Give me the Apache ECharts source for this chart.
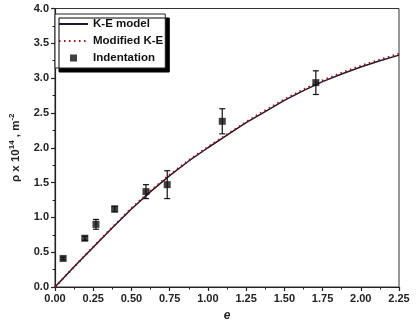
<!DOCTYPE html>
<html><head><meta charset="utf-8">
<script src="https://cdn.jsdelivr.net/npm/echarts@6/dist/echarts.min.js"></script>
<style>html,body{margin:0;padding:0;background:#fff}#c{width:419px;height:327px}</style>
</head><body><div id="c"></div>
<script>
// Model curves
const curveE   = [0, 0.125, 0.25, 0.375, 0.5, 0.625, 0.75, 0.875, 1.0, 1.125, 1.25, 1.375, 1.5, 1.625, 1.75, 1.875, 2.0, 2.125, 2.25];
const keModel  = [0, 0.29, 0.57, 0.85, 1.12, 1.37, 1.60, 1.81, 2.00, 2.18, 2.36, 2.52, 2.68, 2.82, 2.95, 3.06, 3.16, 3.25, 3.33];
const modKE    = [0, 0.29, 0.575, 0.855, 1.13, 1.38, 1.61, 1.82, 2.01, 2.19, 2.37, 2.535, 2.695, 2.835, 2.965, 3.075, 3.175, 3.265, 3.35];
// Indentation data
const indE   = [0.053, 0.195, 0.268, 0.39, 0.595, 0.734, 1.094, 1.706];
const indRho = [0.41, 0.70, 0.90, 1.12, 1.37, 1.47, 2.38, 2.935];
const indErr = [0.02, 0.03, 0.07, 0.04, 0.10, 0.20, 0.18, 0.17];
const xTicks = [0, 0.25, 0.5, 0.75, 1.0, 1.25, 1.5, 1.75, 2.0, 2.25];
const yTicks = [0, 0.5, 1.0, 1.5, 2.0, 2.5, 3.0, 3.5, 4.0];

const FONT = 'Liberation Sans';
const chart = echarts.init(document.getElementById('c'));
const axisCommon = {
  axisLine:{show:true, onZero:false, lineStyle:{color:'#222', width:1.2}},
  axisTick:{show:true, inside:false, length:4, lineStyle:{color:'#222', width:1.2}},
  minorTick:{show:true, splitNumber:2, length:2.5, lineStyle:{color:'#222', width:1}},
  splitLine:{show:false},
  axisLabel:{color:'#222', fontFamily:FONT, fontWeight:'bold', fontSize:11}
};
const SQ = 'path://M0 0M2.5 2.5H9.5V9.5H2.5ZM12 12';
chart.setOption({
  animation:false,
  backgroundColor:'#fff',
  grid:{left:49, right:20, top:8.5, bottom:35.3, show:true, borderColor:'#333', borderWidth:1},
  legend:{
    orient:'vertical', left:55, top:14,
    backgroundColor:'#fff', borderColor:'#222', borderWidth:1,
    shadowColor:'#000', shadowOffsetX:4, shadowOffsetY:4, shadowBlur:0,
    padding:[4,2,4,3], itemGap:5, itemWidth:29, itemHeight:12,
    textStyle:{fontFamily:FONT, fontWeight:'bold', fontSize:11.5, color:'#111'},
    data:[
      {name:'K-E model', itemStyle:{opacity:0}},
      {name:'Modified K-E', itemStyle:{opacity:0}},
      {name:'Indentation', icon:SQ, itemStyle:{color:'#111'}}
    ]
  },
  xAxis:Object.assign({}, axisCommon, {
    type:'value', min:0, max:2.25, interval:0.25,
    name:'e', nameLocation:'middle', nameGap:23,
    nameTextStyle:{fontFamily:FONT, fontWeight:'bold', fontStyle:'italic', fontSize:12, color:'#222'},
    axisLabel:Object.assign({}, axisCommon.axisLabel, {margin:6,
      formatter:v=>{const t=xTicks.find(x=>Math.abs(x-v)<1e-9);return t===undefined?'':t.toFixed(2);}})
  }),
  yAxis:Object.assign({}, axisCommon, {
    type:'value', min:0, max:4, interval:0.5,
    name:'{a|ρ x 10}{s|14}{a| , m}{s|-2}', nameLocation:'middle', nameGap:33, nameRotate:90,
    nameTextStyle:{fontFamily:FONT, fontWeight:'bold', fontSize:11.5, color:'#222',
      rich:{a:{fontFamily:FONT, fontWeight:'bold', fontSize:11.5, color:'#222', verticalAlign:'bottom'},
            s:{fontFamily:FONT, fontWeight:'bold', fontSize:8, color:'#222', verticalAlign:'top', padding:[0,0,6,0]}}},
    axisLabel:Object.assign({}, axisCommon.axisLabel, {margin:6,
      formatter:v=>{const t=yTicks.find(x=>Math.abs(x-v)<1e-9);return t===undefined?'':t.toFixed(1);}})
  }),
  series:[
    {name:'Modified K-E', type:'line', smooth:false, symbol:'none', z:3,
     data:curveE.map((e,i)=>[e, modKE[i]]),
     lineStyle:{color:'#a01010', width:2.2, type:[1.5,3.5]}, itemStyle:{color:'#a01010'}},
    {name:'K-E model', type:'line', smooth:false, symbol:'none', z:2,
     data:curveE.map((e,i)=>[e, keModel[i]]),
     lineStyle:{color:'#1a1a33', width:1.5}, itemStyle:{color:'#1a1a33'}},
    {name:'Indentation', type:'scatter', symbol:'rect', symbolSize:7, z:5,
     data:indE.map((e,i)=>[e, indRho[i]]), itemStyle:{color:'#111'}},
    {name:'err', type:'custom', z:4, silent:true,
     data:indE.map((e,i)=>[e, indRho[i]-indErr[i], indRho[i]+indErr[i]]),
     renderItem:function(params, api){
       const lo = api.coord([api.value(0), api.value(1)]);
       const hi = api.coord([api.value(0), api.value(2)]);
       const w = 3;
       const st = {stroke:'#111', lineWidth:1.2};
       return {type:'group', children:[
         {type:'line', shape:{x1:lo[0], y1:lo[1], x2:hi[0], y2:hi[1]}, style:st},
         {type:'line', shape:{x1:lo[0]-w, y1:lo[1], x2:lo[0]+w, y2:lo[1]}, style:st},
         {type:'line', shape:{x1:hi[0]-w, y1:hi[1], x2:hi[0]+w, y2:hi[1]}, style:st}
       ]};
     }}
  ]
});
</script></body></html>
